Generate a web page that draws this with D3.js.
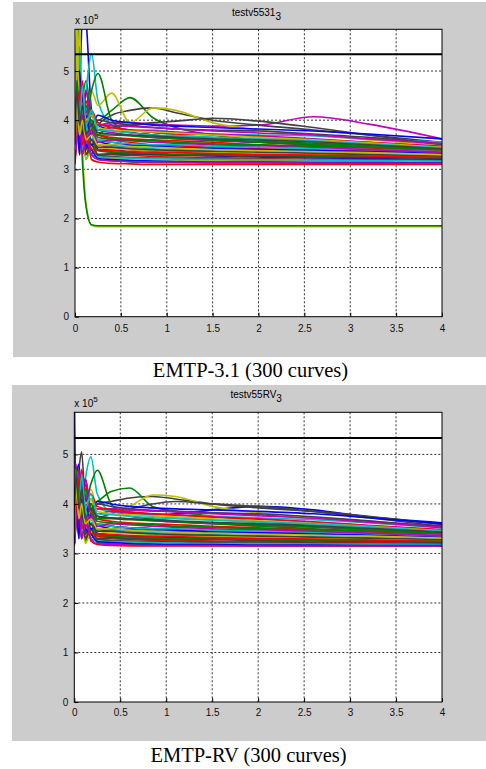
<!DOCTYPE html>
<html>
<head>
<meta charset="utf-8">
<script src="https://cdn.jsdelivr.net/npm/d3@7"></script>
<style>
  body { margin: 0; background: #fff; }
  text { font-family: "Liberation Sans", Arial, sans-serif; }
  .caption { font-family: "Liberation Serif", "Times New Roman", serif; }
</style>
</head>
<body>
<script>
// time grid shared by all curves (s)
var timePoints = [0, 0.02, 0.05, 0.08, 0.12, 0.18, 0.25, 0.4, 0.6, 0.85, 1.1, 1.5, 2, 2.6, 3.2, 4];

// voltages in units of 1e5, one row per curve (subset of the 300)
var curvesA = [
  [3.3, 5.2, 4.4, 6.2, 6.0, 4.2, 3.9, 3.8, 3.75, 3.7, 3.65, 3.6, 3.55, 3.5, 3.45, 3.38],
  [3.6, 4.7, 3.9, 4.4, 4.8, 4.1, 4.0, 4.2, 4.46, 4.05, 3.85, 3.7, 3.6, 3.5, 3.45, 3.38],
  [3.2, 4.6, 3.6, 4.3, 3.4, 3.9, 3.5, 3.45, 3.4, 3.38, 3.35, 3.32, 3.3, 3.28, 3.26, 3.24],
  [3.4, 6.0, 4.8, 3.9, 4.6, 5.35, 4.4, 3.9, 3.8, 3.75, 3.7, 3.65, 3.6, 3.55, 3.5, 3.42],
  [3.6, 4.4, 3.5, 4.2, 3.7, 4.0, 3.9, 3.95, 3.95, 3.92, 3.9, 3.88, 3.9, 4.07, 3.92, 3.62],
  [6.0, 6.4, 5.0, 3.5, 2.3, 1.86, 1.83, 1.83, 1.83, 1.83, 1.83, 1.83, 1.83, 1.83, 1.83, 1.83],
  [3.5, 4.3, 4.7, 3.9, 4.2, 3.7, 3.9, 4.1, 4.2, 4.25, 4.15, 4.0, 3.9, 3.8, 3.7, 3.55],
  [3.2, 4.9, 3.3, 4.5, 3.6, 3.9, 3.4, 3.4, 3.35, 3.3, 3.3, 3.27, 3.25, 3.23, 3.22, 3.2],
  [5.9, 6.3, 4.6, 3.2, 2.25, 1.87, 1.85, 1.85, 1.85, 1.85, 1.85, 1.85, 1.85, 1.85, 1.85, 1.85],
  [3.4, 3.9, 4.5, 3.5, 4.0, 3.5, 3.7, 3.6, 3.55, 3.5, 3.48, 3.45, 3.42, 3.4, 3.38, 3.35],
  [3.15, 4.3, 3.8, 3.3, 4.1, 3.4, 3.3, 3.25, 3.22, 3.2, 3.2, 3.18, 3.17, 3.16, 3.16, 3.15],
  [3.3, 5.0, 3.6, 4.0, 3.5, 4.1, 3.8, 3.75, 3.7, 3.65, 3.62, 3.58, 3.55, 3.5, 3.45, 3.4],
  [3.5, 4.5, 5.9, 4.2, 3.7, 4.6, 4.3, 4.55, 3.95, 4.25, 4.2, 3.95, 3.8, 3.7, 3.6, 3.5],
  [3.3, 4.0, 3.6, 4.4, 3.8, 3.6, 3.7, 3.85, 3.9, 3.95, 3.98, 4.04, 3.98, 3.85, 3.7, 3.5],
  [3.5, 4.2, 3.6, 3.9, 4.3, 3.7, 3.6, 3.55, 3.5, 3.48, 3.45, 3.42, 3.4, 3.38, 3.35, 3.3],
  [3.3, 4.6, 3.9, 4.4, 4.0, 4.6, 4.95, 4.0, 3.75, 3.7, 3.65, 3.6, 3.55, 3.5, 3.45, 3.4],
  [3.2, 4.4, 3.3, 4.1, 3.3, 3.6, 3.3, 3.3, 3.28, 3.26, 3.25, 3.24, 3.22, 3.2, 3.2, 3.18],
  [3.6, 4.2, 5.5, 3.7, 4.3, 3.6, 3.9, 3.85, 3.8, 3.8, 3.75, 3.72, 3.7, 3.68, 3.62, 3.55],
  [3.2, 3.8, 4.3, 3.4, 3.8, 3.3, 3.5, 3.45, 3.42, 3.4, 3.38, 3.35, 3.32, 3.3, 3.28, 3.26],
  [3.4, 6.1, 3.5, 4.6, 3.6, 4.2, 3.6, 3.6, 3.58, 3.56, 3.55, 3.52, 3.5, 3.46, 3.42, 3.38],
  [3.2, 3.6, 4.1, 3.3, 3.7, 3.4, 3.3, 3.32, 3.3, 3.3, 3.28, 3.28, 3.26, 3.25, 3.24, 3.22],
  [3.7, 4.5, 5.0, 4.1, 4.6, 3.9, 4.1, 4.0, 3.95, 3.9, 3.88, 3.85, 3.82, 3.78, 3.72, 3.62],
  [3.15, 4.1, 3.4, 3.8, 3.2, 3.5, 3.2, 3.18, 3.15, 3.14, 3.14, 3.13, 3.13, 3.12, 3.12, 3.12],
  [3.5, 4.7, 4.0, 3.6, 4.4, 3.8, 3.7, 3.65, 3.62, 3.6, 3.58, 3.55, 3.5, 3.47, 3.43, 3.37],
  [3.3, 3.9, 3.4, 4.2, 3.5, 3.7, 3.5, 3.48, 3.45, 3.42, 3.4, 3.38, 3.36, 3.34, 3.32, 3.28],
  [3.4, 4.5, 3.7, 4.1, 4.6, 3.9, 3.8, 3.85, 3.8, 3.78, 3.76, 3.72, 3.68, 3.62, 3.55, 3.47],
  [3.2, 4.2, 3.3, 3.7, 3.2, 3.4, 3.25, 3.22, 3.2, 3.2, 3.19, 3.18, 3.18, 3.17, 3.17, 3.16],
  [3.6, 4.0, 4.6, 3.8, 4.0, 3.7, 4.0, 3.95, 3.9, 3.85, 3.82, 3.8, 3.78, 3.72, 3.65, 3.52],
  [3.3, 4.8, 3.5, 3.9, 3.4, 3.8, 3.4, 3.35, 3.33, 3.32, 3.3, 3.3, 3.28, 3.27, 3.26, 3.24],
  [3.5, 4.3, 3.6, 4.5, 3.8, 4.0, 3.7, 3.7, 3.68, 3.65, 3.63, 3.6, 3.57, 3.53, 3.48, 3.42],
  [3.1, 3.7, 4.2, 3.3, 3.9, 3.2, 3.15, 3.12, 3.11, 3.1, 3.1, 3.1, 3.1, 3.1, 3.1, 3.1],
  [3.4, 4.6, 3.6, 4.3, 3.9, 3.6, 3.6, 3.55, 3.52, 3.5, 3.5, 3.47, 3.45, 3.42, 3.4, 3.36],
  [3.5, 4.1, 4.8, 3.6, 4.2, 3.7, 3.9, 3.9, 3.87, 3.85, 3.82, 3.78, 3.74, 3.7, 3.62, 3.52],
  [3.3, 3.9, 3.4, 4.4, 3.5, 3.9, 3.45, 3.42, 3.4, 3.38, 3.36, 3.34, 3.33, 3.3, 3.28, 3.25],
  [3.2, 4.4, 3.5, 3.8, 3.3, 3.5, 3.28, 3.26, 3.24, 3.23, 3.22, 3.21, 3.2, 3.2, 3.19, 3.18],
  [3.4, 3.8, 4.4, 3.7, 4.1, 3.5, 3.55, 3.5, 3.48, 3.46, 3.44, 3.42, 3.4, 3.38, 3.36, 3.32],
  [3.2, 4.6, 3.5, 4.0, 3.4, 3.6, 3.38, 3.35, 3.33, 3.32, 3.3, 3.29, 3.28, 3.27, 3.26, 3.25],
  [3.6, 4.4, 3.7, 4.8, 4.0, 4.2, 3.95, 3.85, 3.8, 3.75, 3.72, 3.7, 3.66, 3.6, 3.55, 3.46],
  [3.25, 3.7, 4.3, 3.4, 3.9, 3.3, 3.25, 3.24, 3.23, 3.22, 3.21, 3.2, 3.2, 3.19, 3.18, 3.17],
  [3.3, 4.3, 3.5, 4.1, 3.6, 3.8, 3.55, 3.6, 3.58, 3.55, 3.53, 3.5, 3.48, 3.45, 3.4, 3.35],
  [3.7, 5.5, 4.2, 4.6, 4.0, 4.1, 3.85, 3.8, 3.78, 3.76, 3.74, 3.7, 3.65, 3.6, 3.54, 3.45],
  [3.3, 4.1, 3.6, 3.9, 3.4, 3.6, 3.45, 3.45, 3.42, 3.4, 3.38, 3.37, 3.35, 3.33, 3.3, 3.27],
  [3.2, 4.0, 3.3, 4.6, 3.5, 3.4, 3.22, 3.2, 3.18, 3.17, 3.16, 3.15, 3.15, 3.14, 3.14, 3.13],
  [3.4, 4.8, 4.1, 3.8, 4.3, 3.9, 3.65, 3.62, 3.6, 3.58, 3.55, 3.52, 3.5, 3.47, 3.45, 3.4],
  [3.3, 3.9, 4.6, 3.5, 3.7, 3.4, 3.4, 3.38, 3.36, 3.35, 3.34, 3.32, 3.3, 3.29, 3.27, 3.24],
  [3.5, 4.4, 3.8, 4.7, 3.9, 4.2, 3.8, 3.78, 3.74, 3.7, 3.68, 3.65, 3.62, 3.58, 3.52, 3.44],
  [3.2, 3.6, 4.0, 3.3, 3.6, 3.3, 3.2, 3.17, 3.16, 3.15, 3.15, 3.14, 3.14, 3.13, 3.13, 3.12],
  [3.4, 4.3, 3.7, 4.0, 3.6, 3.7, 3.5, 3.5, 3.47, 3.45, 3.43, 3.4, 3.38, 3.36, 3.34, 3.3],
  [3.5, 4.6, 3.9, 4.3, 3.7, 3.9, 3.75, 3.72, 3.7, 3.68, 3.65, 3.62, 3.6, 3.56, 3.5, 3.42]
];

var curvesB = [
  [6.5, 3.9, 4.5, 3.7, 4.2, 3.8, 3.9, 3.85, 3.8, 3.78, 3.8, 3.88, 3.95, 3.88, 3.74, 3.62],
  [3.3, 4.4, 3.6, 4.2, 3.5, 3.9, 3.5, 3.45, 3.42, 3.4, 3.38, 3.36, 3.34, 3.32, 3.3, 3.27],
  [3.2, 4.6, 3.5, 4.0, 3.4, 3.6, 3.35, 3.33, 3.3, 3.28, 3.27, 3.25, 3.24, 3.23, 3.22, 3.2],
  [3.4, 4.2, 4.7, 3.9, 4.5, 4.95, 4.2, 3.85, 3.8, 3.75, 3.72, 3.68, 3.63, 3.58, 3.52, 3.45],
  [3.5, 4.5, 3.8, 4.3, 3.9, 4.1, 3.9, 3.9, 3.88, 3.86, 3.85, 3.82, 3.78, 3.72, 3.65, 3.55],
  [3.3, 4.0, 4.6, 3.6, 4.1, 3.5, 3.6, 3.55, 3.52, 3.5, 3.48, 3.45, 3.42, 3.4, 3.37, 3.33],
  [3.4, 4.2, 4.7, 5.05, 4.0, 3.9, 4.0, 4.05, 4.12, 4.15, 4.1, 4.0, 3.92, 3.85, 3.75, 3.58],
  [3.2, 4.7, 3.4, 4.4, 3.5, 3.8, 3.4, 3.38, 3.35, 3.33, 3.32, 3.3, 3.28, 3.27, 3.25, 3.23],
  [3.5, 4.3, 3.8, 4.6, 4.1, 4.0, 4.05, 4.25, 4.32, 3.95, 3.85, 3.75, 3.65, 3.55, 3.48, 3.4],
  [3.3, 3.8, 4.4, 3.5, 3.9, 3.45, 3.6, 3.55, 3.52, 3.5, 3.48, 3.46, 3.44, 3.42, 3.4, 3.36],
  [3.2, 4.3, 3.6, 3.3, 4.0, 3.4, 3.3, 3.26, 3.24, 3.22, 3.21, 3.2, 3.19, 3.18, 3.18, 3.17],
  [3.3, 4.8, 3.6, 4.1, 3.5, 4.0, 3.75, 3.72, 3.7, 3.66, 3.63, 3.6, 3.57, 3.53, 3.48, 3.42],
  [3.4, 4.4, 4.8, 4.0, 3.7, 4.3, 3.9, 3.85, 3.95, 4.18, 4.15, 3.95, 3.82, 3.72, 3.62, 3.52],
  [3.3, 4.0, 3.6, 4.3, 3.8, 3.6, 3.7, 3.8, 3.9, 4.0, 4.05, 4.0, 3.95, 3.85, 3.72, 3.55],
  [3.5, 4.2, 3.6, 3.9, 4.3, 3.7, 3.6, 3.55, 3.52, 3.5, 3.47, 3.44, 3.42, 3.4, 3.37, 3.32],
  [3.3, 4.5, 3.9, 4.3, 4.0, 4.4, 4.68, 4.0, 3.75, 3.7, 3.65, 3.6, 3.55, 3.5, 3.45, 3.4],
  [3.2, 4.3, 3.3, 4.0, 3.3, 3.6, 3.3, 3.3, 3.28, 3.26, 3.25, 3.24, 3.22, 3.21, 3.2, 3.19],
  [3.6, 4.2, 4.6, 3.7, 4.3, 3.6, 3.9, 3.85, 3.82, 3.8, 3.78, 3.75, 3.72, 3.68, 3.62, 3.52],
  [3.2, 3.8, 4.3, 3.4, 3.8, 3.3, 3.5, 3.45, 3.42, 3.4, 3.38, 3.35, 3.33, 3.3, 3.28, 3.26],
  [3.4, 4.6, 3.5, 4.4, 3.6, 4.1, 3.6, 3.6, 3.58, 3.56, 3.55, 3.52, 3.5, 3.47, 3.43, 3.38],
  [3.2, 3.6, 4.1, 3.3, 3.7, 3.4, 3.3, 3.32, 3.3, 3.3, 3.28, 3.28, 3.26, 3.25, 3.24, 3.22],
  [3.7, 4.5, 4.8, 4.1, 4.5, 3.9, 4.05, 4.0, 3.95, 3.92, 3.9, 3.88, 3.85, 3.8, 3.72, 3.6],
  [3.2, 4.1, 3.4, 3.8, 3.25, 3.5, 3.22, 3.2, 3.18, 3.17, 3.17, 3.16, 3.16, 3.15, 3.15, 3.15],
  [3.5, 4.6, 4.0, 3.6, 4.4, 3.8, 3.7, 3.65, 3.62, 3.6, 3.58, 3.55, 3.52, 3.48, 3.44, 3.38],
  [3.3, 3.9, 3.4, 4.2, 3.5, 3.7, 3.5, 3.48, 3.45, 3.42, 3.4, 3.38, 3.36, 3.34, 3.32, 3.28],
  [3.4, 4.5, 3.7, 4.1, 4.5, 3.9, 3.8, 3.85, 3.82, 3.8, 3.78, 3.74, 3.7, 3.64, 3.57, 3.48],
  [3.2, 4.2, 3.3, 3.7, 3.2, 3.4, 3.25, 3.22, 3.21, 3.2, 3.2, 3.19, 3.19, 3.18, 3.18, 3.17],
  [3.6, 4.0, 4.5, 3.8, 4.0, 3.7, 4.0, 3.95, 3.9, 3.87, 3.85, 3.82, 3.8, 3.74, 3.66, 3.52],
  [3.3, 4.7, 3.5, 3.9, 3.4, 3.8, 3.4, 3.36, 3.34, 3.33, 3.32, 3.31, 3.3, 3.29, 3.27, 3.25],
  [3.5, 4.3, 3.6, 4.5, 3.8, 4.0, 3.7, 3.7, 3.68, 3.66, 3.64, 3.61, 3.58, 3.54, 3.49, 3.43],
  [3.15, 3.7, 4.2, 3.3, 3.9, 3.25, 3.18, 3.16, 3.15, 3.15, 3.15, 3.15, 3.15, 3.15, 3.15, 3.15],
  [3.4, 4.6, 3.6, 4.3, 3.9, 3.6, 3.6, 3.55, 3.52, 3.5, 3.5, 3.47, 3.45, 3.43, 3.4, 3.36],
  [3.5, 4.1, 4.7, 3.6, 4.2, 3.7, 3.9, 3.9, 3.88, 3.86, 3.84, 3.8, 3.76, 3.71, 3.63, 3.53],
  [3.3, 3.9, 3.4, 4.4, 3.5, 3.9, 3.45, 3.42, 3.4, 3.38, 3.36, 3.34, 3.33, 3.31, 3.29, 3.26],
  [3.2, 4.4, 3.5, 3.8, 3.3, 3.5, 3.28, 3.26, 3.25, 3.24, 3.23, 3.22, 3.21, 3.21, 3.2, 3.19],
  [3.4, 3.8, 4.4, 3.7, 4.1, 3.5, 3.55, 3.5, 3.48, 3.46, 3.44, 3.42, 3.4, 3.38, 3.36, 3.32],
  [3.2, 4.6, 3.5, 4.0, 3.4, 3.6, 3.38, 3.35, 3.33, 3.32, 3.3, 3.29, 3.28, 3.27, 3.26, 3.25],
  [3.6, 4.4, 3.7, 4.7, 4.0, 4.2, 3.95, 3.88, 3.84, 3.8, 3.77, 3.73, 3.69, 3.63, 3.56, 3.47],
  [3.25, 3.7, 4.3, 3.4, 3.9, 3.3, 3.25, 3.24, 3.23, 3.22, 3.21, 3.2, 3.2, 3.19, 3.19, 3.18],
  [3.3, 4.3, 3.5, 4.1, 3.6, 3.8, 3.55, 3.6, 3.58, 3.55, 3.53, 3.5, 3.48, 3.45, 3.41, 3.36],
  [3.7, 4.7, 4.2, 4.5, 4.0, 4.1, 3.85, 3.8, 3.78, 3.76, 3.74, 3.7, 3.66, 3.61, 3.55, 3.46],
  [3.3, 4.1, 3.6, 3.9, 3.4, 3.6, 3.45, 3.45, 3.42, 3.4, 3.38, 3.37, 3.35, 3.33, 3.31, 3.28],
  [3.2, 4.0, 3.3, 4.5, 3.5, 3.4, 3.24, 3.22, 3.2, 3.19, 3.18, 3.18, 3.17, 3.17, 3.16, 3.16],
  [3.4, 4.7, 4.1, 3.8, 4.3, 3.9, 3.65, 3.62, 3.6, 3.58, 3.55, 3.53, 3.5, 3.48, 3.45, 3.41],
  [3.3, 3.9, 4.5, 3.5, 3.7, 3.4, 3.4, 3.38, 3.36, 3.35, 3.34, 3.32, 3.3, 3.29, 3.27, 3.24],
  [3.5, 4.4, 3.8, 4.6, 3.9, 4.2, 3.8, 3.78, 3.75, 3.72, 3.7, 3.67, 3.64, 3.6, 3.54, 3.45],
  [3.2, 3.6, 4.0, 3.3, 3.6, 3.3, 3.2, 3.18, 3.17, 3.16, 3.16, 3.16, 3.15, 3.15, 3.15, 3.15],
  [3.4, 4.3, 3.7, 4.0, 3.6, 3.7, 3.5, 3.5, 3.47, 3.45, 3.43, 3.41, 3.39, 3.37, 3.35, 3.31],
  [3.5, 4.6, 3.9, 4.3, 3.7, 3.9, 3.75, 3.72, 3.7, 3.68, 3.66, 3.63, 3.6, 3.56, 3.51, 3.43]
];

var limitA = 5.34;
var limitB = 5.33;

var xTicks = [0, 0.5, 1, 1.5, 2, 2.5, 3, 3.5, 4];
var yTicks = [0, 1, 2, 3, 4, 5];
var colorOrder = ["#0000ff", "#008000", "#ff0000", "#00bfbf", "#bf00bf", "#bfbf00", "#404040"];

var panels = [
  { name: "testv5531", caption: "EMTP-3.1 (300 curves)", curves: curvesA, limit: limitA,
    bg: [13, 2, 473, 355], box: [75, 29.3, 442, 316.7], titleY: 16, expY: 24, tickY: 332, capX: 250.5, capY: 377 },
  { name: "testv55RV", caption: "EMTP-RV (300 curves)", curves: curvesB, limit: limitB,
    bg: [12, 385, 474, 356], box: [74.3, 412.3, 442, 702], titleY: 397.5, expY: 407, tickY: 716, capX: 248.5, capY: 762 }
];

var svg = d3.select("body").append("svg")
  .attr("width", 486)
  .attr("height", 769);

panels.forEach(function(p, pi) {
  var g = svg.append("g");
  var left = p.box[0], top = p.box[1], right = p.box[2], bottom = p.box[3];

  var x = d3.scaleLinear().domain([0, 4]).range([left, right]);
  var y = d3.scaleLinear().domain([0, 5.85]).range([bottom, top]);

  // figure background
  g.append("rect")
    .attr("x", p.bg[0]).attr("y", p.bg[1])
    .attr("width", p.bg[2]).attr("height", p.bg[3])
    .attr("fill", "#cccccc");

  g.append("rect")
    .attr("x", left).attr("y", top)
    .attr("width", right - left).attr("height", bottom - top)
    .attr("fill", "#fff");

  // dotted grid
  g.append("g").selectAll("line.gx")
    .data(xTicks.slice(1, -1))
    .join("line")
    .classed("gx", true)
    .attr("x1", d => x(d)).attr("x2", d => x(d))
    .attr("y1", top).attr("y2", bottom)
    .attr("stroke", "#333").attr("stroke-dasharray", "2,2");
  g.append("g").selectAll("line.gy")
    .data(yTicks.slice(1))
    .join("line")
    .classed("gy", true)
    .attr("y1", d => y(d)).attr("y2", d => y(d))
    .attr("x1", left).attr("x2", right)
    .attr("stroke", "#333").attr("stroke-dasharray", "2,2");

  var clipId = "clip" + pi;
  g.append("clipPath").attr("id", clipId)
    .append("rect")
    .attr("x", left).attr("y", top)
    .attr("width", right - left).attr("height", bottom - top);

  var line = d3.line()
    .x((d, i) => x(timePoints[i]))
    .y(d => y(d))
    .curve(d3.curveMonotoneX);

  var plot = g.append("g").attr("clip-path", "url(#" + clipId + ")");
  plot.selectAll("path.curve")
    .data(p.curves)
    .join("path")
    .classed("curve", true)
    .attr("d", line)
    .attr("fill", "none")
    .attr("stroke", (d, i) => colorOrder[i % colorOrder.length])
    .attr("stroke-width", 1.6);

  // limit line
  plot.append("line")
    .attr("x1", left).attr("x2", right)
    .attr("y1", y(p.limit)).attr("y2", y(p.limit))
    .attr("stroke", "#000").attr("stroke-width", 2);

  // axes box and ticks
  g.append("rect")
    .attr("x", left).attr("y", top)
    .attr("width", right - left).attr("height", bottom - top)
    .attr("fill", "none").attr("stroke", "#000").attr("stroke-width", 1);

  var xAxis = d3.axisBottom(x).tickValues(xTicks).tickSize(-4).tickPadding(9)
    .tickFormat(d3.format("~g"));
  var yAxis = d3.axisLeft(y).tickValues(yTicks).tickSize(-4).tickPadding(6)
    .tickFormat(d3.format("d"));

  var ga = g.append("g").attr("transform", "translate(0," + bottom + ")").call(xAxis);
  var gb = g.append("g").attr("transform", "translate(" + left + ",0)").call(yAxis);
  [ga, gb].forEach(function(a) {
    a.select(".domain").remove();
    a.selectAll("text")
      .attr("font-family", "Liberation Sans, Arial, sans-serif")
      .attr("font-size", 10).attr("fill", "#111");
  });
  ga.selectAll("text").attr("y", null).attr("dy", null)
    .attr("transform", "translate(0," + (p.tickY - bottom) + ")");

  // title with subscript
  var title = g.append("text")
    .attr("x", (left + right) / 2 - 2).attr("y", p.titleY)
    .attr("text-anchor", "middle")
    .attr("font-size", 10);
  title.append("tspan").text(p.name);
  title.append("tspan").attr("dy", 4).text("3");

  // exponent label
  var ex = g.append("text")
    .attr("x", left).attr("y", p.expY)
    .attr("font-size", 10);
  ex.append("tspan").text("x 10");
  ex.append("tspan").attr("dy", -5).attr("font-size", 8).text("5");

  g.append("text")
    .classed("caption", true)
    .attr("x", p.capX).attr("y", p.capY)
    .attr("text-anchor", "middle")
    .attr("font-size", 20.5)
    .text(p.caption);
});
</script>
</body>
</html>
